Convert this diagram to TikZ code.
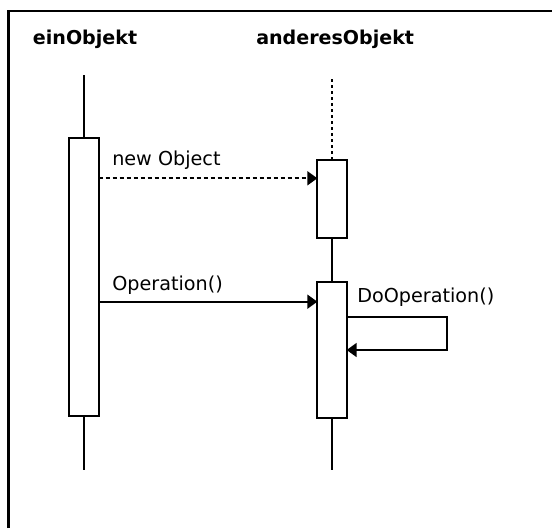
\documentclass[tikz,border=0pt]{standalone}
\usepackage{fontspec}
\setmainfont{DejaVu Sans}
\usetikzlibrary{arrows.meta}

\begin{document}
\begin{tikzpicture}[x=0.75pt,y=-0.75pt,
		objname/.style={inner sep=0pt,anchor=base west,font=\fontsize{14.3pt}{17pt}\selectfont\bfseries},
		msglabel/.style={inner sep=0pt,anchor=base west,font=\fontsize{14.4pt}{17pt}\selectfont},
		activation/.style={draw,fill=white,line width=1.4pt,minimum width=22pt,inner sep=0pt,outer sep=0pt,anchor=north},
		life/.style={line width=1.4pt},
		msg/.style={line width=1.4pt,-{Triangle[length=7.5pt,width=10.5pt]}}]

		\useasboundingbox (0,0) rectangle (552,528);
		\draw[line width=2pt] (8.8,528) -- (8.8,11) -- (552,11);

		\node[objname] (ein) at (32.7,45) {einObjekt};
		\node[objname] (anderes) at (256,45) {anderesObjekt};

		\coordinate (top1) at (84,75);    \coordinate (end1) at (84,470);
		\coordinate (top2) at (332,79);   \coordinate (end2) at (332,470);

		\node[activation,minimum height=208.5pt] (act1) at (84,137.7) {};
		\node[activation,minimum height=58.3pt] (act2a) at (332,160) {};
		\node[activation,minimum height=102pt] (act2b) at (332,282.3) {};

		\draw[life] (top1) -- (act1.north);  \draw[life] (act1.south) -- (end1);
		\draw[life,dash pattern=on 2.25pt off 2.25pt] (top2) -- (act2a.north);
		\draw[life] (act2a.south) -- (act2b.north);  \draw[life] (act2b.south) -- (end2);

		\node[msglabel] (lnew) at (112,165) {new Object};
		\node[msglabel] (lop) at (112,290) {Operation()};
		\node[msglabel] (ldo) at (357,302) {DoOperation()};

		\draw[msg,dash pattern=on 3pt off 2.25pt] (act1.east |- 0,178.3) -- (act2a.west |- 0,178.3);
		\draw[msg] (act1.east |- 0,301.7) -- (act2b.west |- 0,301.7);
		\draw[msg] (act2b.east |- 0,316.7) -| (446.7,333) |- (act2b.east |- 0,350);

	\end{tikzpicture}
\end{document}
